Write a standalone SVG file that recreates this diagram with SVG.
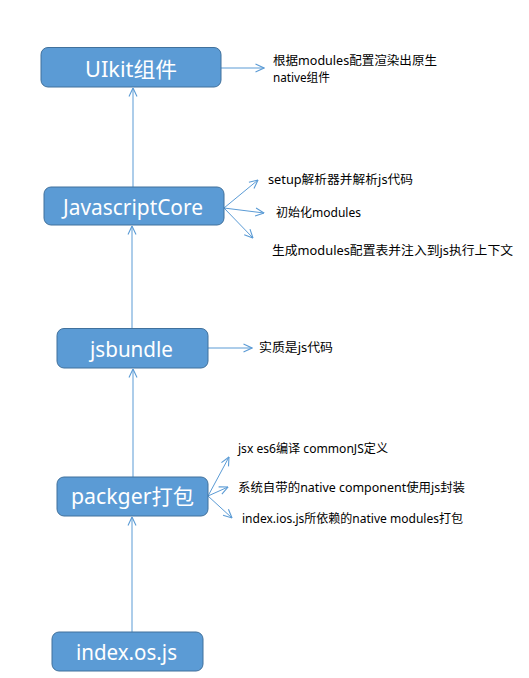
<svg xmlns="http://www.w3.org/2000/svg" width="529" height="678" viewBox="0 0 529 678">
<defs>
<marker id="arr" viewBox="0 0 10 10" refX="9.5" refY="5" markerWidth="10" markerHeight="10" markerUnits="userSpaceOnUse" orient="auto">
<path d="M1,1 L9.5,5 L1,9" fill="none" stroke="#5b9bd5" stroke-width="1.1"/>
</marker>
</defs>
<style>
.box{fill:#5b9bd5;stroke:#41719c;stroke-width:1}
.nt{fill:#ffffff;font-family:"Noto Sans","Noto Sans CJK SC",sans-serif;font-size:21px;text-anchor:start}
.lb{fill:#000000;font-family:"Noto Sans","Noto Sans CJK SC",sans-serif;font-size:12px}
.cn{stroke:#5b9bd5;stroke-width:1;fill:none;marker-end:url(#arr)}
</style>
<rect width="529" height="678" fill="#ffffff"/>
<g id="connectors">
<line class="cn" x1="132" y1="632" x2="132" y2="517"/>
<line class="cn" x1="133" y1="477" x2="133" y2="369"/>
<line class="cn" x1="132" y1="328" x2="132" y2="226"/>
<line class="cn" x1="133" y1="187" x2="133" y2="88"/>
<line class="cn" x1="221" y1="68" x2="264" y2="68"/>
<line class="cn" x1="208" y1="348" x2="252" y2="348"/>
<line class="cn" x1="224" y1="208" x2="258" y2="180"/>
<line class="cn" x1="224" y1="208" x2="264" y2="213"/>
<line class="cn" x1="224" y1="208" x2="253" y2="238"/>
<line class="cn" x1="208" y1="496" x2="229" y2="457"/>
<line class="cn" x1="208" y1="496" x2="228" y2="487"/>
<line class="cn" x1="208" y1="496" x2="232" y2="518"/>
</g>
<g id="node-uikit">
<rect class="box" x="41" y="47.5" width="180" height="39.5" rx="7"/>
<text class="nt" x="85" y="77" textLength="92" lengthAdjust="spacingAndGlyphs">UIkit组件</text>
</g>
<g id="node-jscore">
<rect class="box" x="44" y="187" width="180" height="38" rx="7"/>
<text class="nt" x="63" y="215" textLength="140" lengthAdjust="spacingAndGlyphs">JavascriptCore</text>
</g>
<g id="node-jsbundle">
<rect class="box" x="57" y="328.5" width="151" height="39.5" rx="7"/>
<text class="nt" x="90" y="357" textLength="83" lengthAdjust="spacingAndGlyphs">jsbundle</text>
</g>
<g id="node-packger">
<rect class="box" x="57" y="477" width="151" height="39" rx="7"/>
<text class="nt" x="71" y="504" textLength="123" lengthAdjust="spacingAndGlyphs">packger打包</text>
</g>
<g id="node-index">
<rect class="box" x="52" y="632" width="151" height="39" rx="7"/>
<text class="nt" x="76" y="660" textLength="101" lengthAdjust="spacingAndGlyphs">index.os.js</text>
</g>
<g id="labels">
<text class="lb" x="273" y="65" textLength="164" lengthAdjust="spacingAndGlyphs">根据modules配置渲染出原生</text>
<text class="lb" x="273" y="82" textLength="57" lengthAdjust="spacingAndGlyphs">native组件</text>
<text class="lb" x="268" y="184" textLength="145" lengthAdjust="spacingAndGlyphs">setup解析器并解析js代码</text>
<text class="lb" x="276" y="217" textLength="85" lengthAdjust="spacingAndGlyphs">初始化modules</text>
<text class="lb" x="272" y="255" textLength="241" lengthAdjust="spacingAndGlyphs">生成modules配置表并注入到js执行上下文</text>
<text class="lb" x="259" y="352" textLength="74" lengthAdjust="spacingAndGlyphs">实质是js代码</text>
<text class="lb" x="238" y="453" textLength="150" lengthAdjust="spacingAndGlyphs">jsx es6编译 commonJS定义</text>
<text class="lb" x="238" y="492" textLength="227" lengthAdjust="spacingAndGlyphs">系统自带的native component使用js封装</text>
<text class="lb" x="242" y="523" textLength="221" lengthAdjust="spacingAndGlyphs">index.ios.js所依赖的native modules打包</text>
</g>
</svg>
